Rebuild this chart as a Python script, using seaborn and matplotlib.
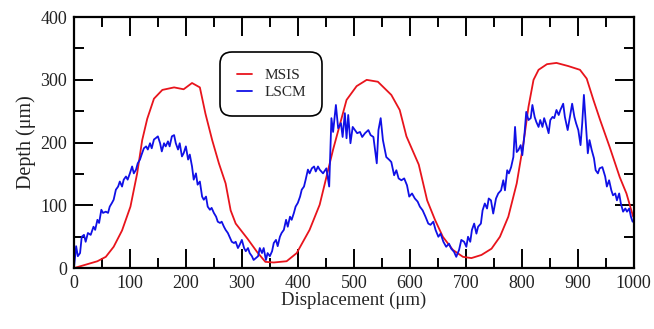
import numpy as np
import pandas as pd
import matplotlib
matplotlib.use("Agg")
import matplotlib.pyplot as plt
import seaborn as sns

# MSIS profile (smooth red curve)
msis_x = [0, 42, 57, 71, 86, 101, 113, 122, 131, 143, 158, 179, 196, 211, 225, 235,
          247, 259, 271, 280, 289, 310, 327, 342, 357, 380, 398, 421, 439, 463, 487,
          505, 523, 543, 567, 582, 594, 616, 631, 645, 659, 677, 695, 710, 728, 746,
          761, 776, 791, 803, 812, 821, 830, 845, 862, 883, 904, 916, 928, 940, 957,
          975, 987, 999]
msis_y = [0, 11, 18, 34, 60, 98, 151, 204, 238, 270, 284, 288, 285, 295, 288, 246,
          204, 167, 135, 92, 71, 47, 26, 10, 9, 11, 24, 61, 101, 189, 268,
          290, 300, 297, 276, 252, 210, 165, 108, 77, 50, 29, 18, 16, 21, 31,
          50, 82, 135, 199, 257, 300, 316, 325, 327, 322, 316, 302, 268, 236, 193,
          145, 119, 82]

# LSCM profile (noisy blue curve)
lscm_x = [0, 4, 7, 11, 14, 18, 21, 25, 30, 35, 38, 42, 45, 49, 52, 57, 61, 64, 68, 71,
          75, 79, 82, 86, 89, 93, 96, 100, 104, 107, 111, 114, 118, 121, 125, 129, 132,
          136, 139, 143, 146, 150, 154, 157, 161, 164, 168, 171, 175, 179, 182, 186,
          189, 193, 196, 200, 204, 207, 211, 214, 218, 221, 225, 229, 232, 236, 239,
          243, 246, 250, 254, 257, 261, 264, 268, 271, 275, 279, 282, 286, 289, 293,
          296, 300, 304, 307, 311, 314, 318, 321, 325, 329, 332, 336, 339, 343, 346,
          350, 354, 357, 361, 364, 368, 371, 375, 379, 382, 386, 389, 393, 396, 400,
          404, 407, 411, 414, 418, 421, 425, 429, 432, 436, 439,
          445, 451, 456, 460, 463, 468, 472, 477, 480, 484, 487, 490, 494, 498, 502,
          506, 511, 515, 520, 526, 530, 535, 541, 544, 548, 552, 558, 564,
          567, 572, 576, 580, 585, 590, 595, 599, 604, 609, 614, 618, 623, 628, 633,
          637, 642, 646, 651, 655, 660, 665, 670, 674, 679, 683, 688, 692, 697, 701,
          704, 708, 711, 715, 719, 722, 727, 730, 734, 738, 741, 745,
          749, 754, 758, 763, 767, 770, 774, 777, 781, 785, 788, 791, 794, 798, 801,
          805, 808, 812, 816, 819, 823, 826, 830, 833, 837, 840, 844, 848, 851, 855,
          858, 862, 866, 869, 874, 877, 882, 886, 890, 894, 897, 901, 905, 908, 911,
          914, 918, 921, 925, 929, 932, 936, 939,
          944, 949, 952, 956, 960, 963, 967, 970, 974, 977, 981, 985, 988, 992, 995, 998]
lscm_y = [0, 35, 19, 24, 50, 53, 42, 56, 53, 66, 61, 77, 72, 93, 88, 90, 88, 98, 104, 109,
          125, 130, 138, 130, 141, 146, 141, 151, 162, 151, 157, 167, 173, 181, 191, 194, 189,
          199, 191, 205, 207, 210, 199, 186, 199, 194, 202, 194, 210, 212, 199, 189,
          199, 178, 183, 194, 173, 181, 162, 141, 151, 133, 138, 114, 109, 114, 98,
          93, 96, 88, 82, 74, 72, 74, 66, 61, 56, 48, 42, 40, 42, 32,
          37, 45, 32, 27, 32, 24, 19, 13, 16, 19, 32, 24, 32, 13, 24,
          19, 27, 40, 45, 35, 50, 56, 61, 77, 66, 82, 77, 88, 98, 104,
          114, 125, 130, 141, 157, 151, 159, 162, 154, 162, 157,
          151, 159, 130, 239, 217, 260, 223, 231, 209, 247, 207, 244, 199, 225, 220,
          215, 217, 209, 215, 220, 212, 209, 167, 220, 239, 204, 177, 172,
          169, 148, 156, 143, 140, 143, 132, 114, 119, 111, 106, 98, 92, 82, 71,
          69, 74, 61, 50, 55, 42, 34, 39, 31, 26, 18, 29, 45, 42, 34,
          50, 42, 61, 71, 55, 66, 71, 92, 103, 95, 111, 108,
          87, 111, 119, 124, 140, 124, 156, 151, 161, 177, 225, 185, 188, 196, 180,
          215, 249, 236, 239, 260, 241, 233, 225, 236, 225, 239, 228, 215, 236, 241,
          239, 252, 244, 252, 262, 241, 220, 241, 262, 241, 231, 220, 196, 231, 276,
          236, 183, 204, 188, 175, 156, 151, 159,
          161, 146, 130, 140, 124, 116, 119, 108, 119, 103, 90, 95, 90, 95, 82, 74]

sns.set_theme(style="ticks")
plt.rcParams["font.family"] = ["Liberation Serif", "DejaVu Serif"]

fig = plt.figure(figsize=(6.54, 3.29), dpi=100)
ax = fig.add_axes([0.113, 0.185, 0.856, 0.763])

sns.lineplot(x=msis_x, y=msis_y, ax=ax, color="#e8141c", linewidth=1.3,
             sort=False, estimator=None, label="MSIS")
sns.lineplot(x=lscm_x, y=lscm_y, ax=ax, color="#1010e6", linewidth=1.3,
             sort=False, estimator=None, label="LSCM")

ax.set_xlim(0, 1000)
ax.set_ylim(0, 400)
ax.set_xticks(np.arange(0, 1001, 100))
ax.set_yticks(np.arange(0, 401, 100))
ax.set_xticks(np.arange(50, 1000, 100), minor=True)
ax.set_yticks(np.arange(50, 400, 100), minor=True)
ax.tick_params(which="both", direction="in", top=True, right=True, width=1.4,
               color="black", labelsize=13, labelcolor="#222222")
ax.tick_params(which="major", length=14, pad=5)
ax.tick_params(which="minor", length=7)
for s in ax.spines.values():
    s.set_linewidth(1.6)
    s.set_color("black")

ax.set_xlabel("Displacement (μm)", fontsize=13.5, labelpad=0, color="#222222")
ax.set_ylabel("Depth (μm)", fontsize=14.5, labelpad=3, color="#222222")

leg = ax.legend(loc="upper left", bbox_to_anchor=(0.266, 0.85), fontsize=11,
                frameon=True, fancybox=True, handlelength=1.0, handletextpad=0.8,
                borderpad=0.9, labelspacing=0.2, borderaxespad=0)
leg.get_frame().set_edgecolor("black")
leg.get_frame().set_linewidth(1.2)
leg.get_frame().set_alpha(1)
leg.get_frame().set_boxstyle("round,pad=0.2,rounding_size=0.8")

fig.savefig("out.png", dpi=100)
